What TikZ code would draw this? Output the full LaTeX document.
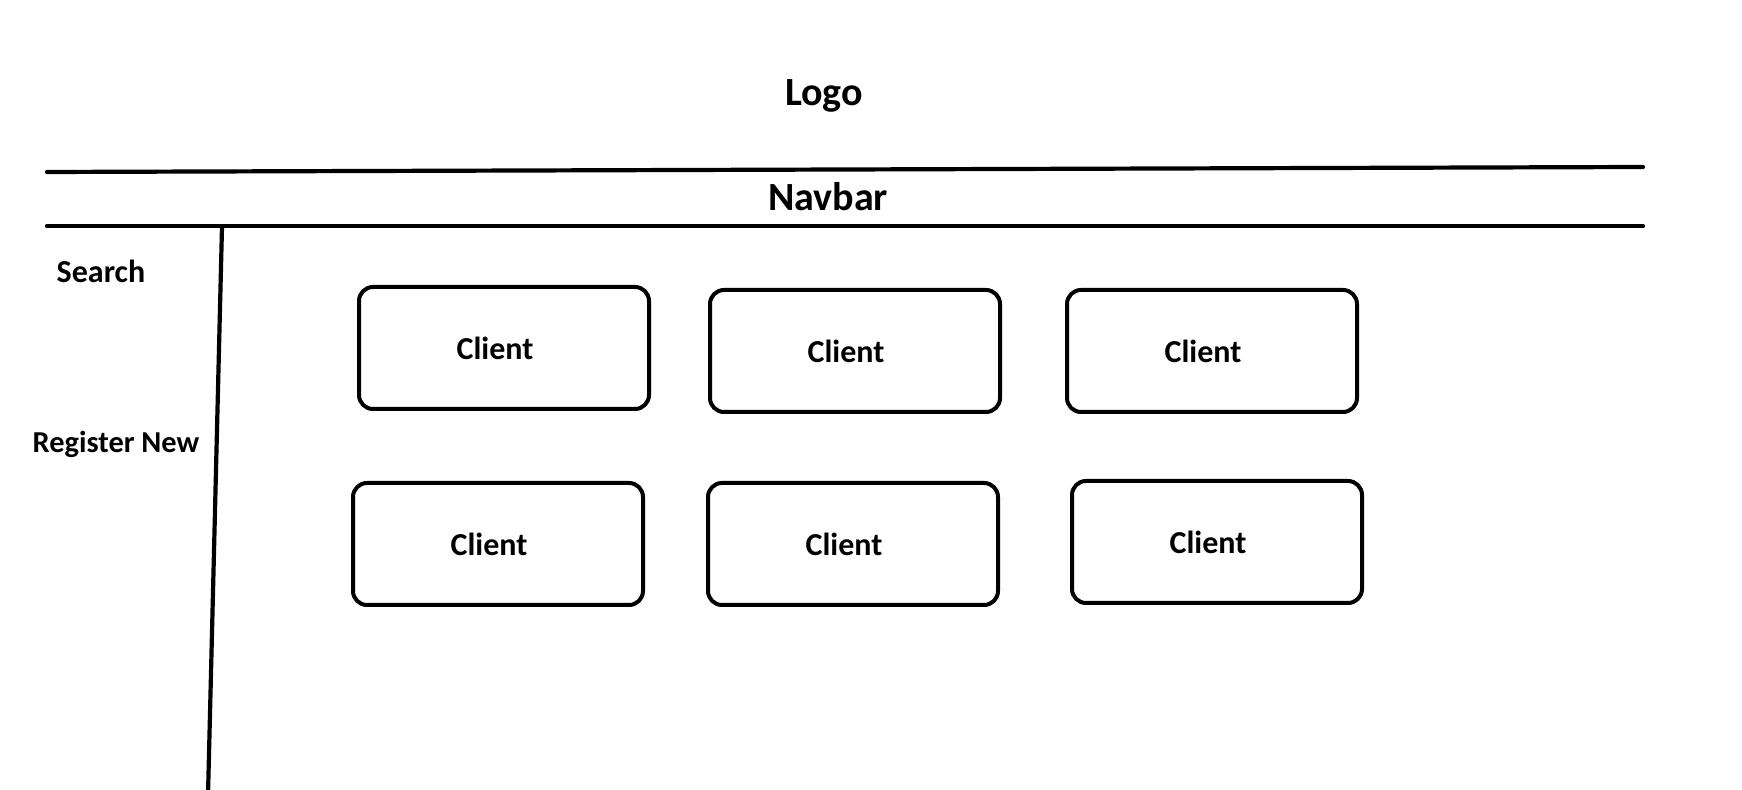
\documentclass[tikz,border=0pt]{standalone}
\usepackage{fontspec}
\setmainfont{Carlito}
\usetikzlibrary{positioning}
\definecolor{inkline}{HTML}{000000}
\newcommand{\bigtitle}[1]{\fontsize{20}{24}\selectfont\bfseries #1}

\begin{document}
\begin{tikzpicture}[x=0.5pt, y=-0.5pt,
    clientbox/.style={draw=inkline, line width=2pt, rounded corners=7pt,
      minimum width=145pt, minimum height=61pt, align=center,
      execute at begin node={\kern-9pt},
      font=\fontsize{16}{19}\selectfont\bfseries},
    sidelabel/.style={font=\fontsize{16}{19}\selectfont\bfseries},
    rule/.style={draw=inkline, line width=2.1pt, line cap=round}]
  \useasboundingbox (0,0) rectangle (1742,790);
  % header
  \node (logo) at (824,96) {\bigtitle{Logo}};
  \coordinate (topleft) at (47,172);
  \coordinate (topright) at (1643,167);
  \coordinate (navleft) at (47,226);
  \coordinate (navright) at (1643,226);
  \draw[rule] (topleft) -- (topright);
  \draw[rule] (navleft) -- (navright);
  \node (navbar) at (828,197) {\bigtitle{Navbar}};
  % sidebar
  \coordinate (sidetop) at (222,227);
  \coordinate (sidebottom) at (208,795);
  \draw[rule] (sidetop) -- (sidebottom);
  \node[sidelabel] (search) at (101,271) {Search};
  \node[sidelabel, font=\fontsize{15.2}{18}\selectfont\bfseries] (register) at (116,444) {Register New};
  % clients
  \node[clientbox] (client1) at (504,348) {Client};
  \node[clientbox] (client2) at (855,351) {Client};
  \node[clientbox] (client3) at (1212,351) {Client};
  \node[clientbox] (client4) at (498,544) {Client};
  \node[clientbox] (client5) at (853,544) {Client};
  \node[clientbox] (client6) at (1217,542) {Client};
\end{tikzpicture}
\end{document}
